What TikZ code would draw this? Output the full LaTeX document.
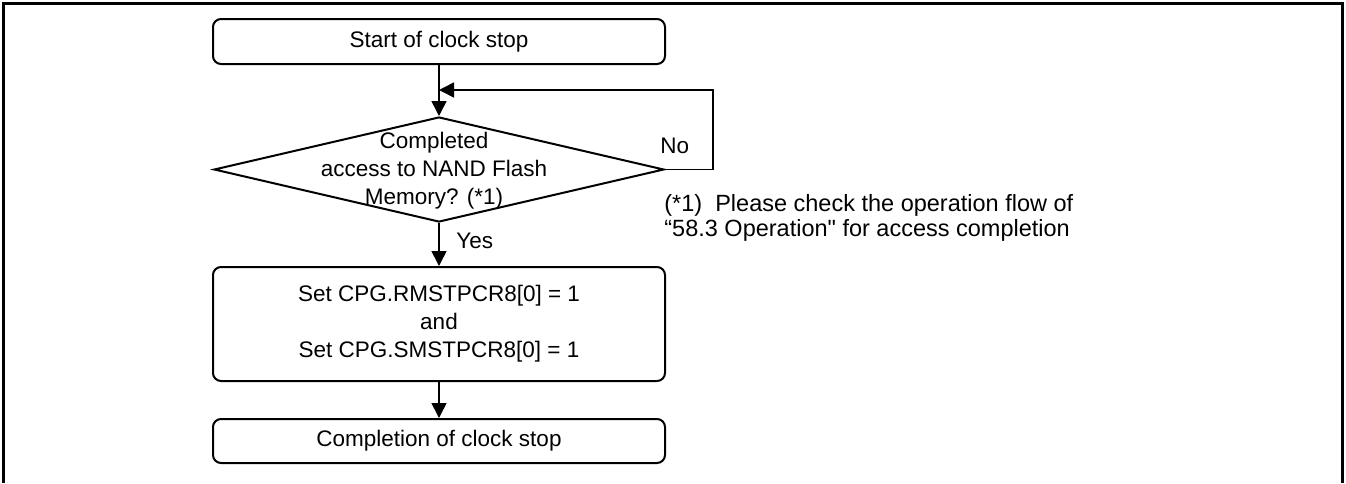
\documentclass[tikz,border=0pt]{standalone}
\usepackage{fontspec}
\setmainfont{Liberation Sans}
\newfontfamily\plainq{Liberation Sans}
\usetikzlibrary{shapes.geometric,arrows.meta}
\tikzset{
  box/.style={draw,line width=1pt,rounded corners=4pt,inner sep=0pt,
    minimum width=226pt,align=center,font=\fontsize{11.25}{14}\selectfont},
  dec/.style={draw,diamond,line width=1pt,inner sep=0pt,
    minimum width=225pt,minimum height=52.5pt},
  txt/.style={inner sep=0pt,font=\fontsize{11.25}{14}\selectfont},
  arr/.style={line width=0.8pt,-{Triangle[length=7.5pt,width=7.5pt]}},
  frame/.style={line width=1.2pt}
}
\begin{document}
\begin{tikzpicture}[x=0.5pt,y=-0.5pt]
\useasboundingbox (0,0) rectangle (1346,483);
% outer frame (open at the bottom)
\draw[frame] (3.5,483) -- (3.5,3.5) -- (1342.5,3.5) -- (1342.5,483);
% nodes
\node[box,minimum height=22.5pt] (start) at (439,41.5) {Start of clock stop};
\node[dec] (decide) at (439,169.5) {};
\node[txt,align=center,font=\fontsize{11.25}{14}\selectfont] (dectext) at (434,171)
  {Completed\\access to NAND Flash\\Memory? (*1)};
\node[box,minimum height=57pt] (proc) at (439,324)
  {Set CPG.RMSTPCR8[0] = 1\\and\\Set CPG.SMSTPCR8[0] = 1};
\node[box,minimum height=22pt] (stop) at (439,441) {Completion of clock stop};
% labels
\node[txt,anchor=base west] (no) at (660,153) {No};
\node[txt,anchor=base west] (yes) at (456,248) {Yes};
\node[txt,anchor=base west,align=left,font=\fontsize{11.75}{12.5}\selectfont] (note) at (664,236.7)
  {(*1)\ \ Please check the operation flow of\\“58.3 Operation{\plainq"} for access completion};
% connectors
\coordinate (loopcorner) at (713,90);
\coordinate (loopin) at (439,90);
\draw[arr] (start.south) -- (decide.north);
\draw[arr] (decide.south) -- (proc.north);
\draw[arr] (proc.south) -- (stop.north);
\draw[arr] (decide.east) -| (loopcorner) -- (loopin);
\end{tikzpicture}
\end{document}
